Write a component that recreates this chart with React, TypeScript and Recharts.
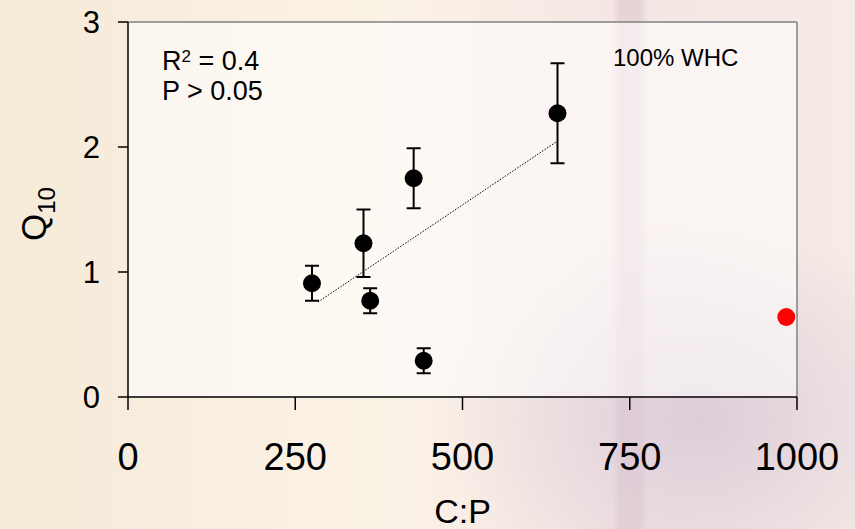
import React from 'react';
import {
  ScatterChart,
  Scatter,
  XAxis,
  YAxis,
  CartesianGrid,
  ErrorBar,
  ReferenceLine,
  Label,
} from 'recharts';

// C:P ratio vs Q10 at 100% WHC
const cpRatio = [275, 352, 362, 427, 442, 642];
const q10 = [0.91, 1.23, 0.77, 1.75, 0.29, 2.27];
const q10Err = [0.14, 0.27, 0.1, 0.24, 0.1, 0.4];

const outlierCp = [984];
const outlierQ10 = [0.64];

const trendCp = [284, 640];
const trendQ10 = [0.76, 2.04];

const xTicks = [0, 250, 500, 750, 1000];
const yTicks = [0, 1, 2, 3];

const points = cpRatio.map((cp, i) => ({ cp, q: q10[i], err: q10Err[i] }));
const outlier = outlierCp.map((cp, i) => ({ cp, q: outlierQ10[i] }));
const trend = trendCp.map((cp, i) => ({ cp, q: trendQ10[i] }));

const font = 'Arial, "Liberation Sans", sans-serif';

const Dot = (color: string) => (props: any) => (
  <circle cx={props.cx} cy={props.cy} r={9} fill={color} />
);

const QLabel = () => (
  <text
    x={0}
    y={0}
    transform="translate(46, 214) rotate(-90)"
    textAnchor="middle"
    fontFamily={font}
    fontSize={35}
    fill="#000"
  >
    Q
    <tspan fontSize={24} dy={9}>
      10
    </tspan>
  </text>
);

const App: React.FC = () => {
  return (
    <div
      style={{
        position: 'absolute',
        left: 0,
        top: 0,
        width: 855,
        height: 529,
        fontFamily: font,
        background:
          'radial-gradient(ellipse 260px 200px at 700px 420px, rgba(214,196,214,0.75), rgba(214,196,214,0) 100%), linear-gradient(to right, rgba(0,0,0,0) 612px, rgba(222,200,205,0.6) 620px, rgba(222,200,205,0.6) 640px, rgba(0,0,0,0) 648px), linear-gradient(to right, #f6ead8, #fbf2e6 45%, #f4e6e4 75%, #f6ebe6)',
      }}
    >
      <ScatterChart width={855} height={529} margin={{ top: 22, right: 58, bottom: 0, left: 0 }}>
        <CartesianGrid horizontal={false} vertical={false} fill="rgba(255,255,255,0.55)" />
        <XAxis
          type="number"
          dataKey="cp"
          domain={[0, 1000]}
          ticks={xTicks}
          height={132}
          tickSize={13}
          tickMargin={33}
          stroke="#000"
          strokeWidth={1.5}
          tick={{ fill: '#000', fontSize: 38, fontFamily: font }}
        >
          <Label
            value="C:P"
            position="insideBottom"
            offset={6}
            style={{ fill: '#000', fontSize: 34, fontFamily: font }}
          />
        </XAxis>
        <YAxis
          type="number"
          dataKey="q"
          domain={[0, 3]}
          ticks={yTicks}
          width={128}
          tickSize={10}
          tickMargin={18}
          stroke="#000"
          strokeWidth={1.5}
          tick={{ fill: '#000', fontSize: 31, fontFamily: font }}
        >
          <Label content={QLabel} />
        </YAxis>
        <ReferenceLine y={3} stroke="#808080" strokeWidth={1.5} />
        <ReferenceLine x={1000} stroke="#808080" strokeWidth={1.5} />
        <Scatter
          data={trend}
          line={{ stroke: '#000', strokeWidth: 1, strokeDasharray: '1.5 1.5' }}
          shape={() => <g />}
          isAnimationActive={false}
        />
        <Scatter data={points} shape={Dot('#000')} isAnimationActive={false}>
          <ErrorBar dataKey="err" direction="y" width={7} stroke="#000" strokeWidth={2} />
        </Scatter>
        <Scatter data={outlier} shape={Dot('#ff0000')} isAnimationActive={false} />
      </ScatterChart>
      <div
        style={{
          position: 'absolute',
          left: 162,
          top: 46,
          fontSize: 27,
          lineHeight: '30px',
          color: '#000',
        }}
      >
        <div>
          R<sup style={{ fontSize: 17, verticalAlign: 'top', lineHeight: '22px' }}>2</sup> = 0.4
        </div>
        <div>P &gt; 0.05</div>
      </div>
      <div
        style={{
          position: 'absolute',
          left: 613,
          top: 44,
          fontSize: 24,
          color: '#000',
        }}
      >
        100% WHC
      </div>
    </div>
  );
};

export default App;
